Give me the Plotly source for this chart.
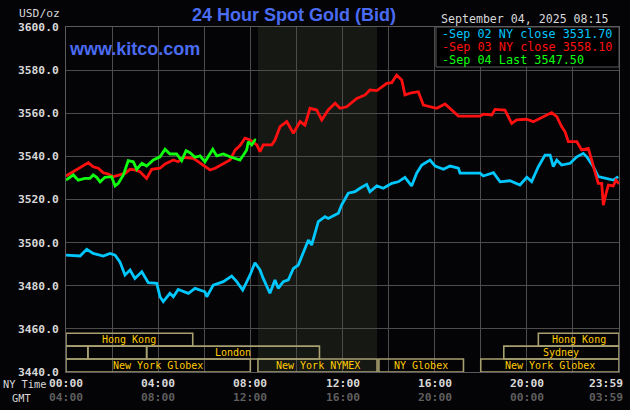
import plotly.graph_objects as go

# ---------------- data (hours of NY time, USD/oz) ----------------
hours_sep02 = [0.0, 0.61, 0.90, 1.18, 1.62, 1.91, 2.13, 2.34, 2.56, 2.78, 2.99, 3.29, 3.57, 3.94,
               4.08, 4.22, 4.51, 4.66, 4.87, 5.16, 5.31, 5.60, 6.03, 6.11, 6.39, 6.83, 7.19, 7.41,
               7.67, 7.99, 8.20, 8.42, 8.56, 8.85, 9.07, 9.21, 9.43, 9.65, 9.87, 10.08, 10.30,
               10.52, 10.66, 10.95, 11.24, 11.38, 11.82, 11.96, 12.25, 12.54, 12.76, 13.05, 13.19,
               13.49, 13.77, 14.14, 14.42, 14.71, 15.00, 15.22, 15.44, 15.80, 16.02, 16.38, 16.67,
               17.03, 17.10, 17.97, 18.11, 18.55, 18.84, 19.27, 19.70, 20.00, 20.21, 20.50, 20.79,
               21.01, 21.15, 21.30, 21.51, 21.88, 22.17, 22.45, 22.60, 22.89, 23.10, 23.47, 23.75,
               23.97]
usd_sep02 = [3494.2, 3493.8, 3496.9, 3495.0, 3493.8, 3495.0, 3494.2, 3491.1, 3485.0, 3487.3,
             3483.4, 3486.5, 3481.4, 3481.1, 3474.9, 3472.6, 3476.5, 3474.9, 3478.3, 3477.2,
             3476.5, 3478.8, 3477.2, 3474.9, 3480.3, 3481.9, 3484.5, 3481.9, 3478.0, 3485.0,
             3490.7, 3487.3, 3483.4, 3476.5, 3482.7, 3478.8, 3481.9, 3482.7, 3488.0, 3489.6,
             3495.8, 3501.2, 3498.9, 3509.7, 3512.0, 3511.2, 3513.6, 3517.4, 3522.9, 3523.6,
             3525.2, 3527.0, 3523.6, 3526.3, 3525.2, 3527.5, 3528.2, 3530.3, 3526.3, 3532.2,
             3536.0, 3538.3, 3535.5, 3534.0, 3535.5, 3534.5, 3532.2, 3532.2, 3530.9, 3532.4,
             3528.2, 3528.7, 3526.7, 3530.3, 3528.3, 3535.2, 3540.6, 3540.6, 3535.2, 3538.3,
             3536.0, 3536.8, 3539.8, 3541.4, 3539.8, 3535.2, 3530.6, 3529.8, 3529.0, 3530.6]

hours_sep03 = [0.0, 0.32, 0.61, 0.97, 1.18, 1.40, 1.62, 1.84, 2.05, 2.34, 2.56, 2.78, 2.99, 3.21,
               3.50, 3.72, 4.08, 4.30, 4.66, 4.87, 5.09, 5.53, 5.82, 6.25, 6.47, 6.83, 7.12, 7.34,
               7.55, 7.77, 7.99, 8.28, 8.42, 8.56, 8.93, 9.07, 9.29, 9.58, 9.87, 10.16, 10.37,
               10.59, 10.88, 11.10, 11.38, 11.68, 11.89, 12.18, 12.62, 12.98, 13.19, 13.49, 13.92,
               14.14, 14.35, 14.57, 14.71, 15.00, 15.29, 15.51, 15.80, 16.09, 16.45, 17.03, 17.97,
               18.11, 18.48, 18.62, 19.05, 19.34, 19.56, 19.99, 20.28, 20.65, 20.86, 21.08, 21.30,
               21.51, 21.66, 21.80, 22.17, 22.38, 22.67, 22.82, 22.96, 23.10, 23.25, 23.32, 23.44,
               23.54, 23.75, 23.87, 24.0]
usd_sep03 = [3530.9, 3532.9, 3534.5, 3537.1, 3535.2, 3534.5, 3532.4, 3531.8, 3530.6, 3531.4,
             3532.1, 3534.0, 3533.7, 3532.9, 3529.8, 3534.0, 3534.5, 3536.5, 3538.3, 3537.5,
             3539.6, 3539.1, 3536.8, 3533.7, 3534.5, 3536.8, 3538.3, 3542.9, 3545.0, 3548.4,
             3547.6, 3545.3, 3542.2, 3545.3, 3545.3, 3547.6, 3553.8, 3556.1, 3550.7, 3556.1,
             3554.5, 3562.3, 3561.5, 3556.9, 3561.5, 3564.6, 3562.3, 3563.0, 3566.9, 3568.5,
             3570.8, 3570.5, 3573.9, 3574.2, 3577.7, 3575.4, 3568.5, 3569.5, 3570.0, 3563.8,
             3563.0, 3562.3, 3564.3, 3558.7, 3558.7, 3559.6, 3559.2, 3561.8, 3561.5, 3555.3,
             3556.9, 3557.2, 3556.1, 3558.1, 3559.2, 3560.3, 3558.4, 3553.8, 3551.4, 3546.8,
             3546.8, 3543.0, 3543.7, 3538.3, 3532.1, 3527.5, 3527.5, 3517.4, 3522.9, 3526.7,
             3526.3, 3529.0, 3527.2]

hours_sep04 = [0.0, 0.32, 0.53, 0.82, 1.04, 1.18, 1.33, 1.48, 1.69, 1.98, 2.13, 2.27, 2.49, 2.70,
               2.92, 3.07, 3.29, 3.50, 3.79, 4.08, 4.30, 4.51, 4.80, 5.02, 5.21, 5.38, 5.60, 5.82,
               6.03, 6.18, 6.37, 6.54, 6.83, 7.12, 7.41, 7.55, 7.70, 7.84, 7.91, 8.06, 8.20, 8.25]
usd_sep04 = [3529.0, 3531.4, 3529.0, 3529.8, 3529.8, 3531.4, 3530.3, 3528.2, 3530.3, 3530.6,
             3526.3, 3527.5, 3531.4, 3538.0, 3537.5, 3534.0, 3536.8, 3535.5, 3538.3, 3539.8,
             3543.3, 3541.1, 3541.1, 3538.0, 3542.6, 3541.7, 3539.6, 3540.2, 3537.5, 3539.8,
             3543.3, 3540.2, 3541.1, 3539.8, 3538.6, 3538.3, 3540.6, 3543.0, 3546.8, 3545.3,
             3547.6, 3547.5]

series_labels = ["Sep 02 NY close", "Sep 03 NY close", "Sep 04 Last"]
series_values = [3531.70, 3558.10, 3547.50]

y_tick_values = [3440, 3460, 3480, 3500, 3520, 3540, 3560, 3580, 3600]
x_grid_hours = [0, 2, 4, 6, 8, 10, 12, 14, 16, 18, 20, 22, 24]
x_label_hours = [0, 4, 8, 12, 16, 20, 24]
ny_time_labels = ["00:00", "04:00", "08:00", "12:00", "16:00", "20:00", "23:59"]
gmt_labels = ["04:00", "08:00", "12:00", "16:00", "20:00", "00:00", "03:59"]

nymex_pit_hours = [8.33, 13.5]

session_names = ["Hong Kong", "Hong Kong", "", "", "London", "Sydney",
                 "New York Globex", "New York NYMEX", "NY Globex", "New York Globex"]
session_rows = [0, 0, 1, 1, 1, 1, 2, 2, 2, 2]
session_start = [0.0, 20.5, 0.0, 0.95, 3.5, 19.0, 0.0, 8.33, 13.58, 18.0]
session_end = [5.5, 24.0, 0.95, 3.5, 11.0, 24.0, 8.0, 13.5, 17.25, 24.0]

date_stamp = "September 04, 2025 08:15"

# ---------------- styling ----------------
W, H = 630, 410
L, R, T, B = 66, 619, 27, 372
Y0, Y1 = 3440, 3600
colors = ["#00c8ff", "#ff1010", "#10ff10"]
mono = "DejaVu Sans Mono"
grid = "#4c4c4c"


def px(xp):
    return (xp - L) / (R - L)


def py(yp):
    return (B - yp) / (B - T)


fig = go.Figure()
for hrs, vals, c in zip([hours_sep02, hours_sep03, hours_sep04],
                        [usd_sep02, usd_sep03, usd_sep04], colors):
    fig.add_trace(go.Scatter(x=hrs, y=vals, mode="lines",
                             line=dict(color=c, width=2.8), showlegend=False,
                             hoverinfo="skip"))

shapes = []
# NYMEX pit shading
shapes.append(dict(type="rect", xref="x", yref="y", x0=nymex_pit_hours[0], x1=nymex_pit_hours[1],
                   y0=Y0, y1=Y1, fillcolor="#161814", line=dict(width=0), layer="below"))

annotations = []
row_h = 6.0
for name, row, s, e in zip(session_names, session_rows, session_start, session_end):
    top = Y0 + (3 - row) * row_h
    bot = top - row_h
    shapes.append(dict(type="rect", xref="x", yref="y", x0=s, x1=e, y0=bot, y1=top,
                       line=dict(color="#a8a070", width=1.6), fillcolor="rgba(0,0,0,0)",
                       layer="above"))
    if name:
        annotations.append(dict(x=(s + e) / 2, y=(top + bot) / 2, xref="x", yref="y",
                                yanchor="middle", text=name, showarrow=False,
                                font=dict(family=mono, size=10, color="#ffcc00")))

# legend box
shapes.append(dict(type="rect", xref="paper", yref="paper", x0=px(436), x1=1.0,
                   y0=py(67), y1=1.0, fillcolor="#000000", line=dict(color="#5a5a5a", width=1),
                   layer="above"))
for i, (lab, val, c) in enumerate(zip(series_labels, series_values, colors)):
    annotations.append(dict(x=px(440), y=py(34 + i * 13), xref="paper", yref="paper",
                            xanchor="left", yanchor="middle", showarrow=False,
                            text=f"-{lab} {val:.2f}",
                            font=dict(family=mono, size=11.8, color=c)))

# date stamp
annotations.append(dict(x=px(439), y=py(19), xref="paper", yref="paper", xanchor="left",
                        yanchor="middle", showarrow=False, text=date_stamp,
                        font=dict(family=mono, size=11.6, color="#d8d8d8")))
# title
annotations.append(dict(x=px(294), y=py(15.5), xref="paper", yref="paper", xanchor="center",
                        yanchor="middle", showarrow=False, text="<b>24 Hour Spot Gold (Bid)</b>",
                        font=dict(family="Liberation Sans", size=18, color="#4a6cf2")))
# kitco
annotations.append(dict(x=px(67), y=py(48.5), xref="paper", yref="paper", xanchor="left",
                        yanchor="middle", showarrow=False, text="<b>www.kitco.com</b>",
                        font=dict(family="Liberation Sans", size=18, color="#4a6cf2")))
# unit
annotations.append(dict(x=px(62), y=py(13.5), xref="paper", yref="paper", xanchor="right",
                        yanchor="middle", showarrow=False, text="USD/oz",
                        font=dict(family=mono, size=11.3, color="#d8d8d8")))
# x labels
last = len(x_label_hours) - 1
for i, (h, ny, gmt) in enumerate(zip(x_label_hours, ny_time_labels, gmt_labels)):
    anchor = "right" if i == last else "center"
    xs = 6 if i == last else 0
    annotations.append(dict(x=h, y=py(383.5), xref="x", yref="paper", showarrow=False,
                            xanchor=anchor, yanchor="middle", xshift=xs,
                            text=f"<b>{ny}</b>", font=dict(family=mono, size=11.3, color="#d8d8d8")))
    annotations.append(dict(x=h, y=py(397.5), xref="x", yref="paper", showarrow=False,
                            xanchor=anchor, yanchor="middle", xshift=xs,
                            text=f"<b>{gmt}</b>", font=dict(family=mono, size=11.3, color="#5e5e5e")))
annotations.append(dict(x=px(1), y=py(383.5), xref="paper", yref="paper", xanchor="left",
                        yanchor="middle", showarrow=False, text="NY Time",
                        font=dict(family=mono, size=10.3, color="#d8d8d8")))
annotations.append(dict(x=px(10), y=py(397.5), xref="paper", yref="paper", xanchor="left",
                        yanchor="middle", showarrow=False, text="GMT",
                        font=dict(family=mono, size=10.3, color="#d8d8d8")))

fig.update_layout(
    width=W, height=H, autosize=False,
    margin=dict(l=L, r=W - R, t=T, b=H - B, pad=0),
    paper_bgcolor="#040306", plot_bgcolor="#040306",
    shapes=shapes, annotations=annotations,
    xaxis=dict(range=[0, 24], tickvals=x_grid_hours, showticklabels=False, ticks="",
               showgrid=True, gridcolor=grid, gridwidth=1, zeroline=False,
               showline=True, linecolor="#5a5a5a", linewidth=1, mirror=True, fixedrange=True),
    yaxis=dict(range=[Y0, Y1], tickvals=y_tick_values,
               ticktext=[f"<b>{v:.1f}</b>" for v in y_tick_values], ticks="",
               tickfont=dict(family=mono, size=11.3, color="#d8d8d8"), ticklabelstandoff=4,
               showgrid=True, gridcolor=grid, gridwidth=1, zeroline=False,
               showline=True, linecolor="#5a5a5a", linewidth=1, mirror=True, fixedrange=True),
)

fig.write_html("out.html", config={"displayModeBar": False})
